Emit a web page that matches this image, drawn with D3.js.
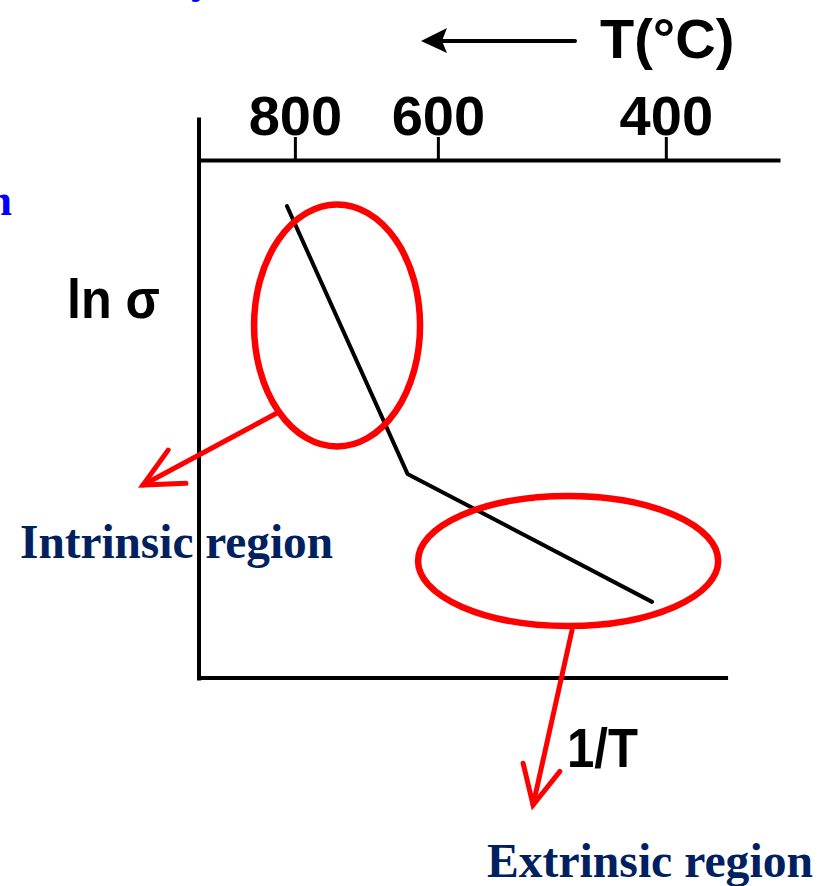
<!DOCTYPE html>
<html>
<head>
<meta charset="utf-8">
<script src="https://cdn.jsdelivr.net/npm/d3@7/dist/d3.min.js"></script>
<style>
  html, body { margin: 0; padding: 0; background: #fff; }
  svg { display: block; }
</style>
</head>
<body>
<svg id="chart" width="829" height="886"></svg>
<script>
// Temperatures marked on the top axis (°C)
const tempTicks = [800, 600, 400];
// Conductivity curve: x = 1000/T (K^-1), y = ln σ (arbitrary units)
const curveInvT = [0.920, 1.100, 1.465];
const curveLnSigma = [9.11, 3.94, 1.47];
// Region labels
const regionNames = ["Intrinsic region", "Extrinsic region"];

const svg = d3.select("#chart");

const toInvT = c => 1000 / (c + 273.15);

// Scales
const x = d3.scaleLinear().domain([0.7887, 1.656]).range([199, 780]);
const y = d3.scaleLinear().domain([0, 10]).range([678, 160]);

const ink = "#000";
const red = "#ff0000";
const navy = "#002060";
const sans = "'Liberation Sans', Arial, Helvetica, sans-serif";
const serif = "'Liberation Serif', 'Times New Roman', serif";

// Stray blue caption fragments at page edges
svg.append("text").attr("x", 12).attr("y", 215)
  .attr("text-anchor", "end").attr("font-family", serif).attr("font-weight", "bold")
  .attr("font-size", 44).attr("fill", "#0000ff").text("n");
svg.append("text").attr("x", 191).attr("y", -7)
  .attr("font-family", serif).attr("font-weight", "bold")
  .attr("font-size", 44).attr("fill", "#0000ff").text("y");

// Top axis: temperature in °C placed on a 1/T scale
const topAxis = d3.axisTop(x)
  .tickValues(tempTicks.map(toInvT))
  .tickFormat((d, i) => tempTicks[i])
  .tickSize(23).tickSizeOuter(0).tickPadding(2);

const gTop = svg.append("g").attr("transform", `translate(0,${y(10)})`).call(topAxis);
gTop.select(".domain").attr("stroke", ink).attr("stroke-width", 4);
gTop.selectAll(".tick line").attr("stroke", ink).attr("stroke-width", 3);
gTop.selectAll(".tick text")
  .attr("font-family", sans).attr("font-weight", "bold")
  .attr("font-size", 56).attr("fill", ink);

// Left axis line (extends above the top axis)
svg.append("line")
  .attr("x1", x.range()[0]).attr("x2", x.range()[0])
  .attr("y1", y(10.82)).attr("y2", y(-0.05))
  .attr("stroke", ink).attr("stroke-width", 4);

// Bottom axis line
svg.append("line")
  .attr("x1", x.range()[0] - 2).attr("x2", x(1.5785))
  .attr("y1", y(0)).attr("y2", y(0))
  .attr("stroke", ink).attr("stroke-width", 4);

// Axis titles
svg.append("text").attr("x", 600).attr("y", 58)
  .attr("font-family", sans).attr("font-weight", "bold")
  .attr("font-size", 56).attr("fill", ink).text("T(°C)");

// Arrow pointing towards higher temperature
svg.append("line").attr("x1", 440).attr("x2", 575).attr("y1", 41).attr("y2", 41)
  .attr("stroke", ink).attr("stroke-width", 4).attr("stroke-linecap", "round");
svg.append("path").attr("d", "M421,41 L447,28 L442,41 L447,53 Z").attr("fill", ink);

svg.append("text").attr("x", 67).attr("y", 318)
  .attr("font-family", sans).attr("font-weight", "bold")
  .attr("font-size", 56).attr("fill", ink)
  .attr("textLength", 93).attr("lengthAdjust", "spacingAndGlyphs")
  .text("ln σ");

svg.append("text").attr("x", 567).attr("y", 767)
  .attr("font-family", sans).attr("font-weight", "bold")
  .attr("font-size", 56).attr("fill", ink)
  .attr("textLength", 71).attr("lengthAdjust", "spacingAndGlyphs")
  .text("1/T");

// Conductivity curve
const pts = curveInvT.map((v, i) => [v, curveLnSigma[i]]);
svg.append("path")
  .attr("d", d3.line().x(d => x(d[0])).y(d => y(d[1]))(pts))
  .attr("fill", "none").attr("stroke", ink).attr("stroke-width", 4)
  .attr("stroke-linejoin", "round").attr("stroke-linecap", "round");

// Region highlights (centre and radii in data units)
const regions = [
  { cx: 0.9948, cy: 6.805, rx: 0.1239, ry: 2.336,
    from: [0.9052, 5.116], to: [0.7051, 3.726] },
  { cx: 1.3397, cy: 2.259, rx: 0.224, ry: 1.255,
    from: [1.3456, 0.927], to: [1.2874, -2.452] }
];
const kx = Math.abs(x(1) - x(0)), ky = Math.abs(y(1) - y(0));

regions.forEach(r => {
  svg.append("ellipse")
    .attr("cx", x(r.cx)).attr("cy", y(r.cy))
    .attr("rx", r.rx * kx).attr("ry", r.ry * ky)
    .attr("fill", "none").attr("stroke", red).attr("stroke-width", 6.5);

  const x1 = x(r.from[0]), y1 = y(r.from[1]);
  const x2 = x(r.to[0]), y2 = y(r.to[1]);
  svg.append("line").attr("x1", x1).attr("y1", y1).attr("x2", x2).attr("y2", y2)
    .attr("stroke", red).attr("stroke-width", 5).attr("stroke-linecap", "round");
  const back = Math.atan2(y1 - y2, x1 - x2);
  const len = 43, spread = 26 * Math.PI / 180;
  const b1 = [x2 + len * Math.cos(back - spread), y2 + len * Math.sin(back - spread)];
  const b2 = [x2 + len * Math.cos(back + spread), y2 + len * Math.sin(back + spread)];
  svg.append("path")
    .attr("d", `M${b1[0]},${b1[1]} L${x2},${y2} L${b2[0]},${b2[1]}`)
    .attr("fill", "none").attr("stroke", red).attr("stroke-width", 5)
    .attr("stroke-linecap", "round").attr("stroke-linejoin", "miter");
});

// Region labels
svg.append("text").attr("x", 20).attr("y", 558)
  .attr("font-family", serif).attr("font-weight", "bold")
  .attr("font-size", 48).attr("fill", navy)
  .attr("textLength", 313).attr("lengthAdjust", "spacingAndGlyphs")
  .text(regionNames[0]);
svg.append("text").attr("x", 487).attr("y", 877)
  .attr("font-family", serif).attr("font-weight", "bold")
  .attr("font-size", 48).attr("fill", navy)
  .attr("textLength", 326).attr("lengthAdjust", "spacingAndGlyphs")
  .text(regionNames[1]);
</script>
</body>
</html>
